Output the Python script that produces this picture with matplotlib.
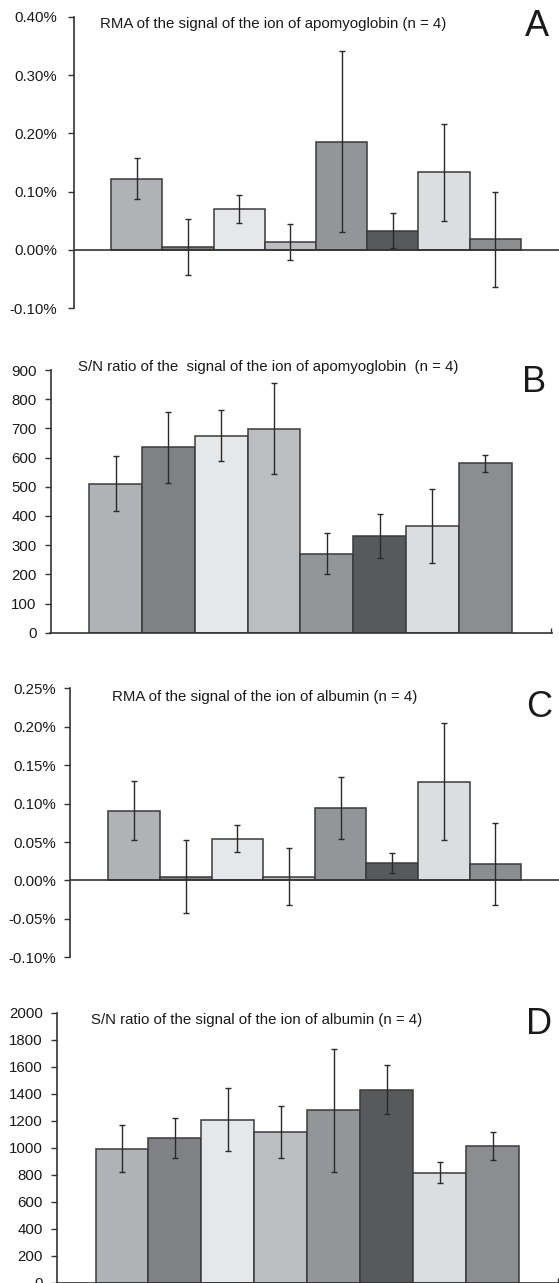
import matplotlib
matplotlib.use("Agg")
import matplotlib.pyplot as plt

W, H = 559, 1283
DPI = 100

plt.rcParams['font.family'] = ['Liberation Sans', 'DejaVu Sans']

# ---------------- data ----------------
colors = ['#b1b2b5', '#808184', '#e6e7e8', '#bcbdc0', '#939598', '#58595b', '#dcddde', '#8c8d90']

a_title = "RMA of the signal of the ion of apomyoglobin (n = 4)"
a_vals = [0.122, 0.005, 0.071, 0.014, 0.186, 0.033, 0.133, 0.018]
a_errs = [0.035, 0.048, 0.024, 0.031, 0.155, 0.030, 0.083, 0.082]
a_ticks = [-0.10, 0.00, 0.10, 0.20, 0.30, 0.40]
a_ticklabels = ["-0.10%", "0.00%", "0.10%", "0.20%", "0.30%", "0.40%"]

b_title = "S/N ratio of the  signal of the ion of apomyoglobin  (n = 4)"
b_vals = [510, 635, 675, 699, 271, 330, 367, 581]
b_errs = [94, 121, 88, 155, 69, 75, 127, 29]
b_ticks = [0, 100, 200, 300, 400, 500, 600, 700, 800, 900]
b_ticklabels = [str(t) for t in b_ticks]

c_title = "RMA of the signal of the ion of albumin (n = 4)"
c_vals = [0.091, 0.005, 0.0545, 0.005, 0.0944, 0.0226, 0.1286, 0.0213]
c_errs = [0.038, 0.048, 0.018, 0.037, 0.040, 0.0125, 0.076, 0.0535]
c_ticks = [-0.10, -0.05, 0.00, 0.05, 0.10, 0.15, 0.20, 0.25]
c_ticklabels = ["-0.10%", "-0.05%", "0.00%", "0.05%", "0.10%", "0.15%", "0.20%", "0.25%"]

d_title = "S/N ratio of the signal of the ion of albumin (n = 4)"
d_vals = [992, 1071, 1208, 1115, 1277, 1430, 815, 1011]
d_errs = [173, 148, 235, 195, 457, 183, 78, 101]
d_ticks = [0, 200, 400, 600, 800, 1000, 1200, 1400, 1600, 1800, 2000]
d_ticklabels = [str(t) for t in d_ticks]

letters = ["A", "B", "C", "D"]

# ---------------- layout (pixels) ----------------
layouts = [
    dict(l=74.0, r=559.0, t=16.7, b=308.3, bs=111.0, be=521.0, ymin=-0.10, ymax=0.40, spine=False,
         pad=8.0, title_x=100.5, title_y=24.0, let_x=537, let_y=26),
    dict(l=50.5, r=552.0, t=370.0, b=632.7, bs=89.1, be=511.7, ymin=0, ymax=900, spine=True,
         pad=6.0, title_x=77.5, title_y=367.0, let_x=534, let_y=382),
    dict(l=70.0, r=559.0, t=688.3, b=957.3, bs=108.4, be=521.2, ymin=-0.10, ymax=0.25, spine=False,
         pad=6.0, title_x=111.5, title_y=697.0, let_x=539, let_y=707),
    dict(l=56.7, r=559.0, t=1012.7, b=1282.5, bs=95.5, be=519.0, ymin=0, ymax=2000, spine=True,
         pad=6.0, title_x=91.0, title_y=1020.0, let_x=539, let_y=1025),
]

panels = [
    (a_title, a_vals, a_errs, a_ticks, a_ticklabels),
    (b_title, b_vals, b_errs, b_ticks, b_ticklabels),
    (c_title, c_vals, c_errs, c_ticks, c_ticklabels),
    (d_title, d_vals, d_errs, d_ticks, d_ticklabels),
]

fig = plt.figure(figsize=(W / DPI, H / DPI), dpi=DPI)
fig.patch.set_facecolor('white')

axis_col = '#333333'
text_col = '#1a1a1a'

for (title, vals, errs, ticks, ticklabels), lay, letter in zip(panels, layouts, letters):
    ax = fig.add_axes([lay['l'] / W, 1 - lay['b'] / H,
                       (lay['r'] - lay['l']) / W, (lay['b'] - lay['t']) / H])
    ax.patch.set_alpha(0)
    n = len(vals)
    bw = (lay['be'] - lay['bs']) / n
    x0 = -0.5 - (lay['bs'] - lay['l']) / bw
    x1 = n - 0.5 + (lay['r'] - lay['be']) / bw
    xs = list(range(n))
    ax.bar(xs, vals, width=1.0, color=colors, edgecolor='#3a3a3a', linewidth=1.1, zorder=2)
    ax.errorbar(xs, vals, yerr=errs, fmt='none', ecolor='#2a2a2a', elinewidth=1.0,
                capsize=2.4, capthick=1.0, zorder=3)
    ax.set_xlim(x0, x1)
    ax.set_ylim(lay['ymin'], lay['ymax'])
    ax.set_yticks(ticks)
    ax.set_yticklabels(ticklabels)
    for s in ['top', 'right']:
        ax.spines[s].set_visible(False)
    ax.spines['left'].set_color(axis_col)
    ax.spines['left'].set_linewidth(1.2)
    if lay['spine']:
        ax.spines['bottom'].set_color(axis_col)
        ax.spines['bottom'].set_linewidth(1.2)
        ax.set_xticks([x1 - 0.01])
        ax.tick_params(axis='x', direction='in', length=3.5, width=1.0, color=axis_col,
                       labelbottom=False)
    else:
        ax.spines['bottom'].set_visible(False)
        ax.axhline(0, color=axis_col, linewidth=1.2, zorder=4)
        ax.set_xticks([])
    ax.tick_params(axis='y', direction='out', length=4, width=1.0, color=axis_col,
                   labelsize=10.8, labelcolor=text_col, pad=lay['pad'])
    ax.spines['left'].set_zorder(5)

    fig.text(lay['title_x'] / W, 1 - lay['title_y'] / H, title, ha='left', va='center',
             fontsize=10.8, color=text_col)
    fig.text(lay['let_x'] / W, 1 - lay['let_y'] / H, letter, ha='center', va='center',
             fontsize=26, color=text_col)

fig.savefig('out.png', dpi=DPI, facecolor='white')
